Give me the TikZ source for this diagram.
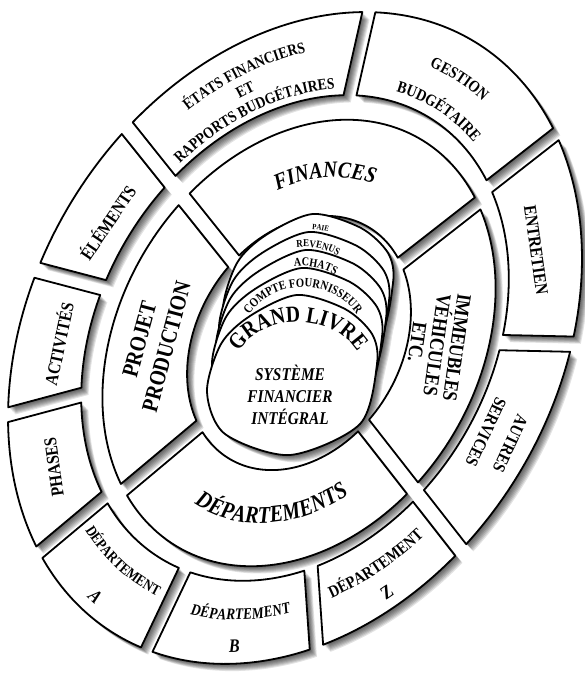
\documentclass[tikz,border=0pt]{standalone}
\usepackage{fontspec}
\setmainfont{Liberation Serif}
\newfontfamily\cfont[FakeStretch=0.85]{Liberation Serif}
\usetikzlibrary{decorations.text}

\newcommand\gapw{134}
% ring segment: [style]{start gap angle}{end gap angle}{inner r}{outer r}
\newcommand\seg[5][]{\path[#1] ({(#2)+\gapw/(#5)}:#5) arc[start angle={(#2)+\gapw/(#5)}, end angle={(#3)-\gapw/(#5)}, radius=#5] -- ({(#3)-\gapw/(#4)}:#4) arc[start angle={(#3)-\gapw/(#4)}, end angle={(#2)+\gapw/(#4)}, radius=#4] -- cycle;}
% one page of the stack, shifted
\newcommand\pageshape[3]{\begin{scope}[shift={(#2,#3)}]\path[#1] plot[smooth cycle] coordinates {(297,379) (345,365) (372,340) (377,310) (360,250) (290,219) (225,240) (207,282) (221,330) (250,358)};\end{scope}}
% arc control points (two Bezier pieces) for text paths
\newcommand\arcpts[4]{%
 \pgfmathsetmacro\apm{((#2)+(#3))/2}%
 \pgfmathsetmacro\aph{abs((#3)-(#2))/2}%
 \pgfmathsetmacro\aps{(#3)>(#2) ? 1 : -1}%
 \pgfmathsetmacro\apk{4/3*tan(\aph/4)}%
 \pgfmathsetmacro\apr{(#4)*sqrt(1+\apk*\apk)}%
 \pgfmathsetmacro\apc{\aps*atan(\apk)}%
 \coordinate (#1-1) at (#2:#4);
 \coordinate (#1-2) at ({(#2)+(\apc)}:\apr);
 \coordinate (#1-3) at ({\apm-(\apc)}:\apr);
 \coordinate (#1-4) at (\apm:#4);
 \coordinate (#1-5) at ({\apm+(\apc)}:\apr);
 \coordinate (#1-6) at ({(#3)-(\apc)}:\apr);
 \coordinate (#1-7) at (#3:#4);}
\newcommand\arctext[3]{\path[decorate, decoration={text along path, text align=center, text={|#2|#3}}] (#1-1) .. controls (#1-2) and (#1-3) .. (#1-4) .. controls (#1-5) and (#1-6) .. (#1-7);}

\newcommand\fEtat{\cfont\bfseries\fontsize{16}{16}\selectfont}
\newcommand\fGest{\cfont\bfseries\fontsize{16.5}{16.5}\selectfont}
\newcommand\fDepA{\cfont\bfseries\fontsize{15}{15}\selectfont}
\newcommand\fDepB{\cfont\bfseries\itshape\fontsize{16}{16}\selectfont}
\newcommand\fDepZ{\cfont\bfseries\fontsize{17}{17}\selectfont}
\newcommand\fLet{\cfont\bfseries\fontsize{19}{19}\selectfont}
\newcommand\fLetI{\cfont\bfseries\itshape\fontsize{19}{19}\selectfont}
\newcommand\fMid{\cfont\bfseries\itshape\fontsize{23}{23}\selectfont}
\newcommand\fMidD{\cfont\bfseries\itshape\fontsize{24}{24}\selectfont}
\newcommand\fGL{\cfont\bfseries\fontsize{23}{23}\selectfont}
\newcommand\fCF{\cfont\bfseries\fontsize{12.5}{12.5}\selectfont}
\newcommand\fAch{\cfont\bfseries\fontsize{12}{12}\selectfont}
\newcommand\fRev{\cfont\bfseries\fontsize{10.5}{10.5}\selectfont}
\newcommand\fPaie{\cfont\bfseries\fontsize{8}{8}\selectfont}

\newcommand\allshapes[1]{%
 \begin{scope}[outerring]
  \seg[#1]{23.8}{74.5}{74.5}{100}
  \seg[#1]{-26.7}{23.8}{74.5}{100}
  \seg[#1]{-66.5}{-26.7}{74.5}{100}
  \seg[#1]{-106}{-66.5}{74.5}{100}
  \seg[#1]{-137}{-106}{74.5}{100}
  \seg[#1]{-172.4}{-137}{74.5}{100}
  \seg[#1]{155.7}{187.6}{74.5}{100}
  \seg[#1]{128.2}{155.7}{74.5}{100}
  \seg[#1]{102.6}{128.2}{74.5}{100}
  \seg[#1]{74.5}{102.6}{74.5}{100}
 \end{scope}
 \begin{scope}[midring]
  \seg[#1]{-26.7}{74.5}{39}{68.5}
  \seg[#1]{74.5}{155.7}{39}{68.5}
  \seg[#1]{155.7}{254}{39}{68.5}
  \seg[#1]{-106}{-26.7}{39}{68.5}
 \end{scope}
 \pageshape{#1}{16}{81}
 \pageshape{#1}{12}{63}
 \pageshape{#1}{9}{45}
 \pageshape{#1}{5}{27}
 \pageshape{#1}{0}{0}
}

\begin{document}
\begin{tikzpicture}[x=1pt, y=1pt,
  outerring/.style={shift={(295,336)}, rotate=58.8, xscale=3.465, yscale=2.618},
  midring/.style={shift={(299,331)}, rotate=58.8, xscale=3.465, yscale=2.618},
  piece/.style={fill=white, draw=black, line width=1.8pt, line join=round},
  shadowpiece/.style={fill=black, draw=none},
  lbl/.style={font=\cfont\bfseries\fontsize{18}{20}\selectfont, inner sep=0pt, align=center}]
\useasboundingbox (0,0) rectangle (585,674);
\fill[white] (0,0) rectangle (585,674);

% soft shadows
\foreach \d in {1,...,8}{%
  \begin{scope}[shift={(0.9*\d,-0.9*\d)}, transparency group, opacity=0.11]
    \allshapes{shadowpiece}
  \end{scope}}
% pieces
\allshapes{piece}

% text paths
\begin{scope}[outerring]
 \arcpts{et1}{73}{25}{89.5}
 \arcpts{et2}{73}{25}{83}
 \arcpts{et3}{73}{25}{76.6}
 \arcpts{ge1}{21}{-24}{87.6}
 \arcpts{ge2}{21}{-24}{77.5}
 \arcpts{da1}{157}{186}{84.5}
 \arcpts{da2}{157}{186}{96.5}
 \arcpts{db1}{189}{222}{86.5}
 \arcpts{db2}{189}{222}{96.5}
 \arcpts{dz1}{-135.5}{-107.5}{86.5}
 \arcpts{dz2}{-135.5}{-107.5}{96.5}
\end{scope}
\begin{scope}[midring]
 \arcpts{fin}{70}{-20}{50.8}
 \arcpts{dep}{160}{251}{55.3}
\end{scope}
\begin{scope}[shift={(298,299)}, xscale=1.245] \arcpts{gl}{170}{10}{53} \end{scope}
\begin{scope}[shift={(303,327)}, xscale=1.067] \arcpts{cf}{170}{10}{60} \end{scope}
\begin{scope}[shift={(302,344)}] \arcpts{ach}{113}{43}{64} \end{scope}
\begin{scope}[shift={(305,362)}] \arcpts{rev}{113}{44}{65} \end{scope}
\begin{scope}[shift={(309,380)}] \arcpts{pai}{110}{50}{65} \end{scope}

% curved labels
\arctext{et1}{\fEtat}{ÉTATS FINANCIERS}
\arctext{et2}{\fEtat}{ET}
\arctext{et3}{\fEtat}{RAPPORTS BUDGÉTAIRES}
\arctext{ge1}{\fGest}{GESTION}
\arctext{ge2}{\fGest}{BUDGÉTAIRE}
\arctext{da1}{\fDepA}{DÉPARTEMENT}
\arctext{da2}{\fLetI}{A}
\arctext{db1}{\fDepB}{DÉPARTEMENT}
\arctext{db2}{\fLetI}{B}
\arctext{dz1}{\fDepZ}{DÉPARTEMENT}
\arctext{dz2}{\fLet}{Z}
\arctext{fin}{\fMid}{FINANCES}
\arctext{dep}{\fMidD}{DÉPARTEMENTS}
\arctext{gl}{\fGL}{GRAND LIVRE}
\arctext{cf}{\fCF}{COMPTE FOURNISSEUR}
\arctext{ach}{\fAch}{ACHATS}
\arctext{rev}{\fRev}{REVENUS}
\arctext{pai}{\fPaie}{PAIE}

% straight labels
\node[lbl, rotate=56] (elem) at (107,452) {ÉLÉMENTS};
\node[lbl, rotate=78] (acti) at (58,330) {ACTIVITÉS};
\node[lbl, rotate=98] (phas) at (54,207) {PHASES};
\node[lbl, rotate=-82] (entr) at (536,424) {ENTRETIEN};
\node[lbl, rotate=-115, font=\cfont\bfseries\fontsize{17.5}{27}\selectfont] (autr) at (498,236) {AUTRES\\SERVICES};
\node[lbl, rotate=75, font=\cfont\bfseries\fontsize{23}{28}\selectfont] (proj) at (153,331) {PROJET\\PRODUCTION};
\node[lbl, rotate=-98, font=\cfont\bfseries\fontsize{20.5}{20}\selectfont] (imme) at (437,329) {IMMEUBLES\\VÉHICULES\\ETC.};
\node[lbl, font=\cfont\bfseries\itshape\fontsize{18}{22}\selectfont] (syst) at (290,279) {SYSTÈME\\FINANCIER\\INTÉGRAL};
\end{tikzpicture}
\end{document}
